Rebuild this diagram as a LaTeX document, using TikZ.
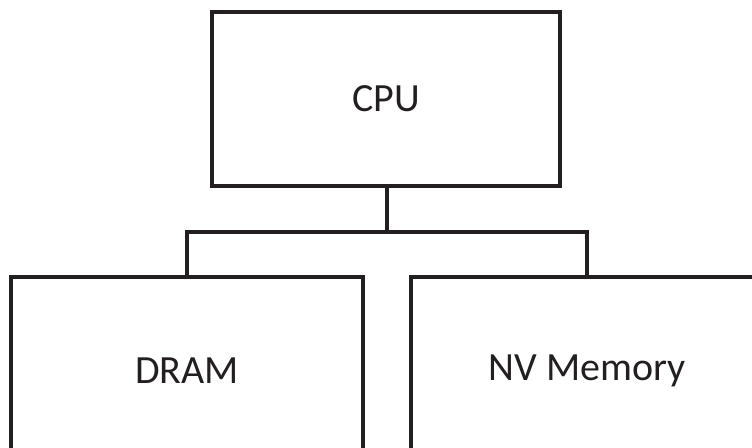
\documentclass[tikz,border=0pt]{standalone}
\usepackage{fontspec}
\setmainfont{Carlito}
\definecolor{edge}{HTML}{231F20}

\begin{document}
\begin{tikzpicture}[x=0.75pt, y=-0.75pt, line width=3pt, every node/.style={font=\fontsize{30}{36}\selectfont, text=edge}]
	\tikzset{unit/.style={draw=edge, rectangle, inner sep=0pt}}
	\useasboundingbox (0,0) rectangle (752,448);
	\clip (0,0) rectangle (752,448);
	\node[unit, minimum width=261pt, minimum height=130.5pt] (cpu) at (386,99) {CPU};
	\node[unit, minimum width=264pt, minimum height=141pt] (dram) at (187,371) {DRAM};
	\node[unit, minimum width=264pt, minimum height=141pt] (nvm) at (587,371) {NV Memory};
	\coordinate (split) at (387,232);
	\draw[edge] (cpu.south -| split) -- (split);
	\draw[edge] (dram.north) |- (split) -| (nvm.north);
\end{tikzpicture}
\end{document}
